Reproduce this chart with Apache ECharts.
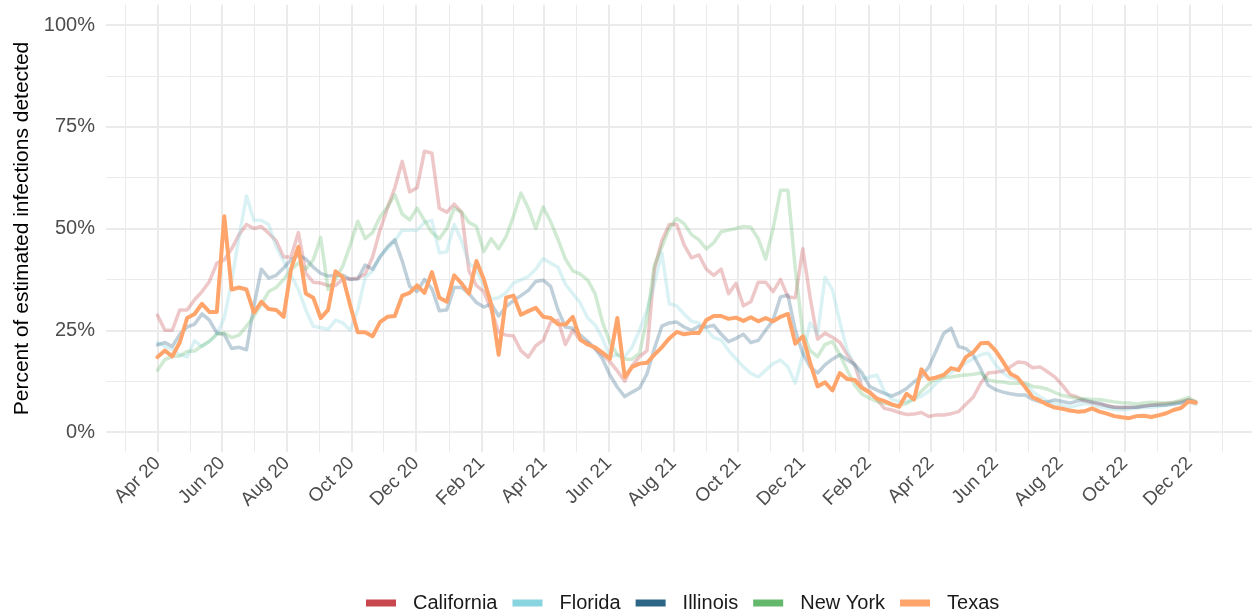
<!DOCTYPE html>
<html>
<head>
<meta charset="utf-8">
<script src="https://cdn.jsdelivr.net/npm/echarts@6/dist/echarts.min.js"></script>
<style>
html,body{margin:0;padding:0;background:#fff;}
#chart{width:1252px;height:615px;}
</style>
</head>
<body>
<div id="chart"></div>
<script>
// weekly sample dates
const dates = [
'2020-04-01','2020-04-08','2020-04-15','2020-04-22','2020-04-29','2020-05-06','2020-05-13','2020-05-20','2020-05-27','2020-06-03',
'2020-06-10','2020-06-17','2020-06-24','2020-07-01','2020-07-08','2020-07-15','2020-07-22','2020-07-29','2020-08-05','2020-08-12',
'2020-08-19','2020-08-26','2020-09-02','2020-09-09','2020-09-16','2020-09-23','2020-09-30','2020-10-07','2020-10-14','2020-10-21',
'2020-10-28','2020-11-04','2020-11-11','2020-11-18','2020-11-25','2020-12-02','2020-12-09','2020-12-16','2020-12-23','2020-12-30',
'2021-01-06','2021-01-13','2021-01-20','2021-01-27','2021-02-03','2021-02-10','2021-02-17','2021-02-24','2021-03-03','2021-03-10',
'2021-03-17','2021-03-24','2021-03-31','2021-04-07','2021-04-14','2021-04-21','2021-04-28','2021-05-05','2021-05-12','2021-05-19',
'2021-05-26','2021-06-02','2021-06-09','2021-06-16','2021-06-23','2021-06-30','2021-07-07','2021-07-14','2021-07-21','2021-07-28',
'2021-08-04','2021-08-11','2021-08-18','2021-08-25','2021-09-01','2021-09-08','2021-09-15','2021-09-22','2021-09-29','2021-10-06',
'2021-10-13','2021-10-20','2021-10-27','2021-11-03','2021-11-10','2021-11-17','2021-11-24','2021-12-01','2021-12-08','2021-12-15',
'2021-12-22','2021-12-29','2022-01-05','2022-01-12','2022-01-19','2022-01-26','2022-02-02','2022-02-09','2022-02-16','2022-02-23',
'2022-03-02','2022-03-09','2022-03-16','2022-03-23','2022-03-30','2022-04-06','2022-04-13','2022-04-20','2022-04-27','2022-05-04',
'2022-05-11','2022-05-18','2022-05-25','2022-06-01','2022-06-08','2022-06-15','2022-06-22','2022-06-29','2022-07-06','2022-07-13',
'2022-07-20','2022-07-27','2022-08-03','2022-08-10','2022-08-17','2022-08-24','2022-08-31','2022-09-07','2022-09-14','2022-09-21',
'2022-09-28','2022-10-05','2022-10-12','2022-10-19','2022-10-26','2022-11-02','2022-11-09','2022-11-16','2022-11-23','2022-11-30',
'2022-12-07'
];

const california = [28.7,25,25,30,30,32.5,34.5,37,41.5,42.3, 45,48.5,51,50,50.5,48.8,47,43,43,49, 39,36.8,36.6,36,36,37.6,37.6,37.8,38.8,43,
 49.6,55,60,66.5,59,60,69,68.5,55,54, 56,54,39.5,36,34.5,30,24.5,23.8,23.6,20, 18.4,21.2,22.5,27,27.5,21.5,25,22.6,21.9,20.5,
 19,17.3,15,12.5,16.3,18.5,20,40,47,51, 51,46,42.8,43.5,40,38.5,40,34,36.5,31, 32,36.8,36.8,34.5,37.5,33.2,33,45,33,22.8,
 24.3,23.3,22,19,16.5,11,10,8,5.8,5.4, 4.8,4.3,4.4,4.8,3.8,4.2,4.2,4.5,5,6.8, 8.6,12,14.5,14.7,15,16,17.2,17,15.8,16,
 14.8,13.5,11.5,9.2,8.6,7.6,7.2,6.8,6.5,6.1, 5.9,6,6.1,6.3,6.6,6.8,7,7.2,7.5,7.9, 7.5];

const florida = [22,21,20.3,19,18.5,22.4,21,22.3,24,28, 37,48,58,52,52,51,45.5,42,38.5,35, 30,26,25.6,25.2,27.5,26.8,25,30,38,39.5,
 43.2,45,47,49.6,49.6,49.6,51.5,52,44,44.3, 51,47,41.5,39.8,36,32.6,33,34.2,36.6,37.4, 38.2,40,42.6,41.5,40.5,36.3,34,31.7,28,26.3,
 23,18.4,19,18.5,20.9,25,30,36.5,44,31.5, 31,29,27.2,26.8,25.2,23.2,22.6,20,18,16, 14.4,13.5,15.2,16.8,17.7,16,12,19,26.8,24,
 38,35,27,20,16.3,13,13.5,14,10,8, 7.5,7.5,8,8.8,10,12,13.5,14.6,15.8,17, 18,19,19.4,16.5,14.5,13.3,12.8,11.7,10,8.6,
 7.6,7,6.5,6.1,6.5,7,6.8,6.2,5.8,5.5, 5.4,5.6,5.9,6,6.1,6.3,6.6,6.9,7.2,7.4, 6.8];

const illinois = [21.4,22,21,24,25.8,26.5,29,27.5,24.3,24, 20.5,20.8,20.2,31,40,37.8,38.5,40.3,42.3,43.5, 42.5,40.5,39,38.3,38.5,38.5,37.5,37.6,41,40,
 43,45.5,47.2,42,35.8,34.5,37.5,35.2,29.8,30, 35.5,35.5,34,31.8,30.7,31.5,28.5,30.8,32.3,33.5, 34.8,37,37.3,35.8,30,25.8,25.5,23.8,22.3,20.5,
 18,14,11,8.7,9.8,10.8,14.3,20.5,26,26.8, 27,25.8,25,26,25.8,26.2,24,22.2,23,24, 22,22.5,25,27.5,33.2,33.6,25,19.3,16,14.5,
 16.5,17.9,19,17.7,16.6,14.5,11.2,10.3,9.5,8.8, 9.6,10.7,12.3,13.6,16,20,24.2,25.5,21,20.5, 18.8,15.5,11.5,10.4,9.8,9.4,9.1,9.1,8,7.4,
 7.4,7.9,7.5,7.1,7.6,7.9,7.4,7.1,6.4,6.1, 6.1,6.1,6.1,6.4,6.6,6.6,6.6,6.9,7.1,7.9, 7.2];

const newYork = [15.2,17.8,18.6,18.7,19.8,19.9,21.2,22.3,24,24.3, 23.2,23.8,26,28.5,31.4,34.5,35.5,37.5,39.8,41.5, 40,42.3,47.8,35,37.5,40.8,46,51.8,47.5,49,
 52.8,55.3,58.3,53.5,52.1,55,52,49,47.5,50, 55,54,51.5,50.5,44.3,47.5,45,48,53,58.7, 55,50,55.3,51.7,47.3,42.5,39.6,38.8,37.3,34,
 27,22,19,17.9,17.9,19.4,28,41,45.5,50, 52.5,51.2,48.5,47.2,45,46.5,49.2,49.6,50,50.5, 50.3,47.5,42.5,50,59.4,59.4,40,24.4,20,18.5,
 21.5,22.2,19,15.2,11.5,9.3,8.3,7.5,7.1,6.6, 6.6,7,8.2,10,11.8,13,13.4,13.5,13.8,14, 14.2,14.5,12.8,12.4,12.3,12,12,12,11.2,11,
 10.5,9.7,9,8.6,8.3,8.2,8,8,7.7,7.4, 7.2,7.1,6.9,7.1,7.3,7.2,7.1,7.3,7.8,8.5, 7.3];

const texas = [18.4,20,18.6,22,28,29,31.5,29.5,29.5,53, 35,35.5,35,29.3,32,30.2,30,28.3,40,45.5, 34,33,28,30,39.5,38,31,24.5,24.5,23.5,
 27,28.3,28.5,33.5,34.2,36,34.2,39.3,33,32, 38.5,36.5,34,42,37.5,31.3,19,33,33.5,28.8, 29.7,30.5,28.3,28,26.5,26.4,28.3,22.7,21.5,20.8,
 19.5,18,28,13.5,16,16.8,17,19,20.8,23, 24.6,24,24.3,24.3,27.5,28.5,28.5,27.8,28.1,27.3, 28.2,27.2,28,27.2,28.3,29,21.7,23.5,17,11.2,
 12.2,10.2,14.5,13,12.8,10.8,9.7,8.2,7.6,6.8, 6.2,9.4,8,15.4,13,13.4,14,15.7,15.2,18.4, 19.6,21.8,21.9,20,17.3,14.3,13.3,11,8.5,7.7,
 6.7,6,5.7,5.3,5,5.1,5.8,5,4.5,3.9, 3.6,3.4,3.9,4,3.7,4.1,4.6,5.4,5.9,7.5, 7.2];

const xTickDates = ['2020-04-01','2020-06-01','2020-08-01','2020-10-01','2020-12-01','2021-02-01','2021-04-01','2021-06-01','2021-08-01',
 '2021-10-01','2021-12-01','2022-02-01','2022-04-01','2022-06-01','2022-08-01','2022-10-01','2022-12-01'];
const yTickValues = [0, 25, 50, 75, 100];
const yMinorValues = [12.5, 37.5, 62.5, 87.5];

const stateNames = ['California','Florida','Illinois','New York','Texas'];
const stateColors = ['#c8464d','#88d5df','#2d6586','#64b86c','#ffa56b'];
const stateValues = [california, florida, illinois, newYork, texas];

const monthNames = ['Jan','Feb','Mar','Apr','May','Jun','Jul','Aug','Sep','Oct','Nov','Dec'];
const toTs = s => { const p = s.split('-').map(Number); return new Date(p[0], p[1]-1, p[2]).getTime(); };
const DAY = 86400000;
const startTs = toTs('2020-04-01');
const xMin = startTs - 48.6 * DAY;
const xMax = startTs + 1033 * DAY;

const majorTs = xTickDates.map(toTs);
const bounds = [toTs('2020-02-01')].concat(majorTs, [toTs('2023-02-01')]);
const minorTs = [];
for (let i = 0; i < bounds.length - 1; i++) minorTs.push((bounds[i] + bounds[i+1]) / 2);

const FONT = "'Liberation Sans', Arial, Helvetica, sans-serif";
const GRID = '#ebebeb';

const series = stateNames.map((name, i) => {
  const isTexas = name === 'Texas';
  return {
    name: name,
    type: 'line',
    xAxisIndex: 0,
    yAxisIndex: 0,
    showSymbol: false,
    symbol: 'none',
    smooth: false,
    z: isTexas ? 10 : 2,
    itemStyle: { color: stateColors[i] },
    lineStyle: { color: stateColors[i], width: isTexas ? 4 : 3.5, opacity: isTexas ? 1 : 0.3, join: 'round', cap: 'round' },
    emphasis: { disabled: true },
    data: dates.map((d, j) => [toTs(d), stateValues[i][j]])
  };
});

const chart = echarts.init(document.getElementById('chart'), null, { renderer: 'canvas' });
chart.setOption({
  animation: false,
  backgroundColor: '#ffffff',
  textStyle: { fontFamily: FONT },
  grid: { left: 106, right: 0, top: 4.65, bottom: 162.65, containLabel: false },
  legend: {
    left: 366,
    top: 593,
    padding: 0,
    orient: 'horizontal',
    itemWidth: 30,
    itemHeight: 7,
    itemGap: 15,
    icon: 'rect',
    selectedMode: false,
    data: stateNames.map((n, i) => ({ name: n, icon: 'rect', itemStyle: { color: stateColors[i], opacity: 1 } })),
    textStyle: { fontFamily: FONT, fontSize: 20, color: '#1a1a1a', padding: [0, 0, 0, 12] }
  },
  xAxis: [
    {
      type: 'value',
      min: xMin,
      max: xMax,
      position: 'bottom',
      axisLine: { show: false },
      axisTick: { show: false, customValues: majorTs },
      axisLabel: {
        customValues: majorTs,
        rotate: 45,
        margin: 8,
        fontFamily: FONT,
        fontSize: 19,
        color: '#4d4d4d',
        hideOverlap: false,
        formatter: v => { const d = new Date(v); return monthNames[d.getMonth()] + ' ' + String(d.getFullYear()).slice(2); }
      },
      splitLine: { show: true, lineStyle: { color: GRID, width: 2 } }
    },
    {
      type: 'value',
      min: xMin,
      max: xMax,
      position: 'top',
      axisLine: { show: false },
      axisTick: { show: false, customValues: minorTs },
      axisLabel: { show: false, customValues: minorTs },
      splitLine: { show: true, lineStyle: { color: GRID, width: 1 } }
    }
  ],
  yAxis: [
    {
      type: 'value',
      min: -5,
      max: 105,
      position: 'left',
      name: 'Percent of estimated infections detected',
      nameLocation: 'middle',
      nameRotate: 90,
      nameGap: 70,
      nameTextStyle: { fontFamily: FONT, fontSize: 21, color: '#000000' },
      axisLine: { show: false },
      axisTick: { show: false, customValues: yTickValues },
      axisLabel: { customValues: yTickValues, margin: 11, fontFamily: FONT, fontSize: 20, color: '#4d4d4d', formatter: v => v + '%' },
      splitLine: { show: true, lineStyle: { color: GRID, width: 2 } }
    },
    {
      type: 'value',
      min: -5,
      max: 105,
      position: 'right',
      axisLine: { show: false },
      axisTick: { show: false, customValues: yMinorValues },
      axisLabel: { show: false, customValues: yMinorValues },
      splitLine: { show: true, lineStyle: { color: GRID, width: 1 } }
    }
  ],
  series: series
});
</script>
</body>
</html>
